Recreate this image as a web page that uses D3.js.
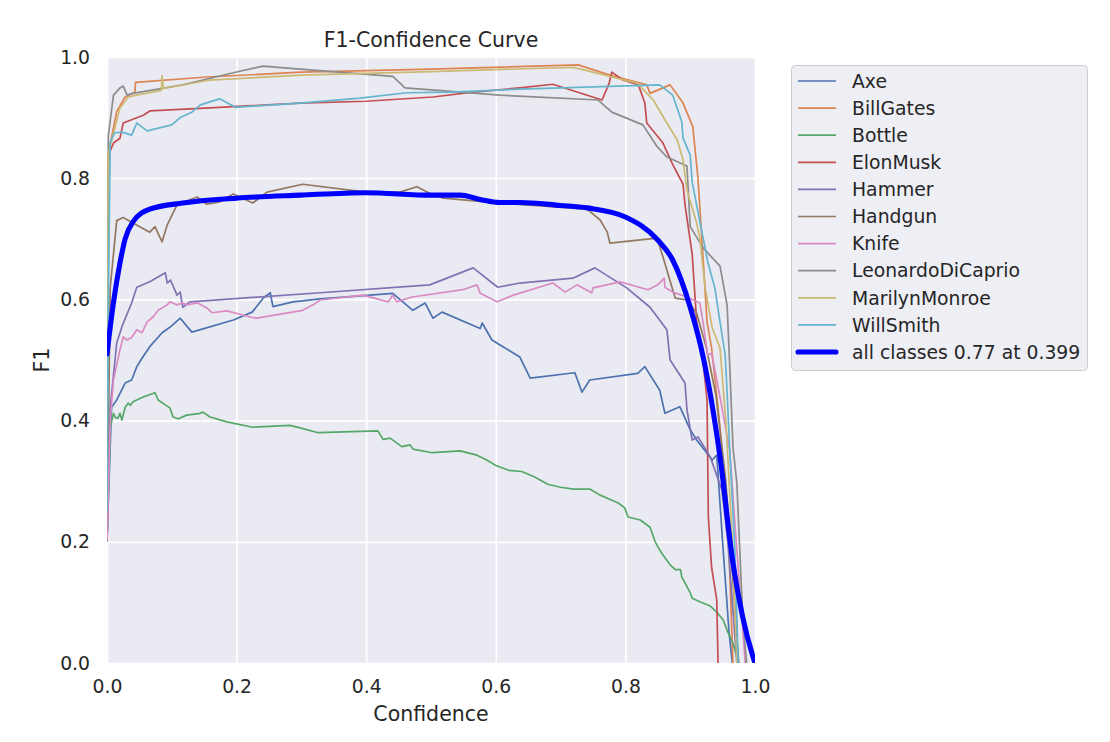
<!DOCTYPE html>
<html lang="en">
<head>
<meta charset="UTF-8">
<title>F1-Confidence Curve</title>
<script src="https://cdn.jsdelivr.net/npm/d3@7"></script>
<style>
    *{
        padding: 0;
        margin: 0;
    }
    body{
        background: #fff;
    }
    svg{
        display: block;
        font-family: "DejaVu Sans", sans-serif;
    }
</style>
</head>
<body>
<script>
    // per-class F1 vs confidence as [confidence, f1]
    let axe = [[0,0.2],[0.007,0.422],[0.015,0.434],[0.028,0.462],[0.038,0.467],[0.046,0.489],[0.054,0.503],[0.066,0.522],[0.085,0.545],[0.097,0.554],[0.113,0.569],[0.131,0.546],[0.195,0.566],[0.224,0.579],[0.241,0.602],[0.252,0.611],[0.256,0.588],[0.287,0.596],[0.329,0.601],[0.441,0.61],[0.472,0.582],[0.491,0.594],[0.503,0.569],[0.517,0.579],[0.576,0.552],[0.579,0.561],[0.594,0.533],[0.637,0.505],[0.653,0.47],[0.722,0.479],[0.733,0.447],[0.745,0.467],[0.819,0.478],[0.83,0.489],[0.853,0.45],[0.861,0.412],[0.884,0.423],[0.9,0.385],[0.91,0.368],[0.934,0.335],[0.941,0.343],[0.95,0.2],[0.96,0.05],[0.965,0.0]];
    let billGates = [[0,0.3],[0.002,0.84],[0.015,0.91],[0.028,0.934],[0.043,0.942],[0.044,0.958],[0.154,0.967],[0.3,0.975],[0.5,0.98],[0.727,0.987],[0.776,0.97],[0.833,0.954],[0.838,0.94],[0.869,0.954],[0.889,0.924],[0.904,0.885],[0.912,0.8],[0.918,0.7],[0.926,0.563],[0.933,0.52],[0.945,0.4],[0.958,0.24],[0.966,0.0]];
    let bottle = [[0,0.2],[0.005,0.389],[0.01,0.412],[0.013,0.405],[0.017,0.404],[0.02,0.412],[0.023,0.401],[0.028,0.422],[0.033,0.429],[0.036,0.425],[0.04,0.431],[0.056,0.439],[0.074,0.446],[0.079,0.434],[0.09,0.426],[0.097,0.421],[0.102,0.406],[0.11,0.403],[0.123,0.409],[0.144,0.412],[0.148,0.414],[0.159,0.406],[0.185,0.398],[0.225,0.389],[0.282,0.392],[0.298,0.388],[0.326,0.38],[0.418,0.383],[0.426,0.369],[0.437,0.371],[0.455,0.357],[0.468,0.36],[0.472,0.353],[0.502,0.347],[0.545,0.35],[0.571,0.343],[0.586,0.335],[0.6,0.326],[0.62,0.318],[0.64,0.316],[0.66,0.307],[0.68,0.295],[0.7,0.29],[0.72,0.287],[0.745,0.287],[0.761,0.277],[0.772,0.272],[0.789,0.264],[0.799,0.256],[0.804,0.241],[0.823,0.236],[0.838,0.224],[0.846,0.2],[0.85,0.192],[0.856,0.181],[0.869,0.162],[0.877,0.154],[0.885,0.154],[0.887,0.142],[0.895,0.126],[0.9,0.116],[0.903,0.107],[0.915,0.101],[0.931,0.094],[0.941,0.084],[0.951,0.071],[0.958,0.051],[0.966,0.033],[0.972,0.01],[0.975,0.0]];
    let elonMusk = [[0,0.3],[0.003,0.84],[0.01,0.858],[0.02,0.866],[0.025,0.891],[0.056,0.904],[0.066,0.911],[0.159,0.916],[0.298,0.924],[0.4,0.927],[0.503,0.934],[0.565,0.942],[0.637,0.949],[0.688,0.955],[0.764,0.929],[0.775,0.957],[0.779,0.975],[0.796,0.962],[0.82,0.954],[0.83,0.924],[0.833,0.891],[0.858,0.858],[0.872,0.825],[0.889,0.79],[0.892,0.756],[0.903,0.675],[0.91,0.563],[0.918,0.517],[0.926,0.434],[0.928,0.241],[0.933,0.158],[0.941,0.104],[0.943,0.0]];
    let hammer = [[0,0.2],[0.005,0.422],[0.015,0.528],[0.023,0.555],[0.038,0.594],[0.046,0.62],[0.066,0.629],[0.09,0.644],[0.093,0.627],[0.098,0.632],[0.108,0.607],[0.113,0.612],[0.117,0.587],[0.128,0.596],[0.329,0.611],[0.498,0.624],[0.565,0.652],[0.603,0.62],[0.637,0.627],[0.719,0.635],[0.753,0.652],[0.802,0.619],[0.838,0.587],[0.864,0.55],[0.869,0.5],[0.892,0.462],[0.895,0.418],[0.903,0.368],[0.912,0.373],[0.931,0.34],[0.949,0.285],[0.958,0.2],[0.965,0.1],[0.972,0.0]];
    let handgun = [[0,0.2],[0.005,0.62],[0.015,0.73],[0.025,0.735],[0.04,0.726],[0.066,0.711],[0.074,0.72],[0.085,0.695],[0.093,0.723],[0.108,0.756],[0.139,0.769],[0.154,0.757],[0.174,0.761],[0.195,0.774],[0.225,0.759],[0.247,0.777],[0.302,0.79],[0.4,0.777],[0.452,0.777],[0.478,0.786],[0.498,0.775],[0.519,0.767],[0.606,0.759],[0.741,0.749],[0.761,0.731],[0.772,0.711],[0.776,0.693],[0.849,0.701],[0.858,0.67],[0.873,0.616],[0.877,0.602],[0.895,0.599],[0.91,0.577],[0.925,0.52],[0.94,0.44],[0.955,0.3],[0.965,0.15],[0.975,0.0]];
    let knife = [[0,0.2],[0.005,0.4],[0.01,0.467],[0.02,0.517],[0.025,0.538],[0.031,0.533],[0.038,0.537],[0.046,0.55],[0.054,0.545],[0.062,0.563],[0.071,0.571],[0.079,0.582],[0.093,0.591],[0.097,0.596],[0.108,0.591],[0.116,0.594],[0.123,0.591],[0.14,0.594],[0.154,0.586],[0.162,0.578],[0.185,0.581],[0.221,0.571],[0.231,0.569],[0.302,0.582],[0.318,0.591],[0.329,0.599],[0.395,0.607],[0.434,0.596],[0.441,0.607],[0.447,0.596],[0.471,0.604],[0.549,0.616],[0.571,0.624],[0.576,0.61],[0.602,0.596],[0.627,0.607],[0.688,0.627],[0.707,0.612],[0.725,0.624],[0.748,0.611],[0.75,0.619],[0.792,0.629],[0.835,0.616],[0.85,0.624],[0.86,0.635],[0.861,0.62],[0.873,0.612],[0.895,0.604],[0.915,0.594],[0.92,0.561],[0.927,0.508],[0.933,0.511],[0.941,0.467],[0.946,0.439],[0.961,0.351],[0.972,0.186],[0.985,0.0]];
    let leonardo = [[0,0.3],[0.002,0.87],[0.01,0.937],[0.02,0.949],[0.025,0.952],[0.031,0.937],[0.04,0.94],[0.117,0.954],[0.195,0.974],[0.241,0.985],[0.298,0.98],[0.441,0.968],[0.46,0.949],[0.606,0.937],[0.758,0.929],[0.779,0.909],[0.827,0.888],[0.849,0.852],[0.864,0.835],[0.895,0.82],[0.9,0.72],[0.92,0.685],[0.946,0.655],[0.957,0.59],[0.961,0.49],[0.966,0.356],[0.972,0.297],[0.981,0.076],[0.987,0.0]];
    let marilyn = [[0,0.3],[0.002,0.84],[0.02,0.916],[0.033,0.934],[0.045,0.937],[0.084,0.945],[0.085,0.969],[0.087,0.948],[0.159,0.962],[0.3,0.97],[0.5,0.976],[0.72,0.983],[0.776,0.968],[0.818,0.957],[0.843,0.929],[0.864,0.891],[0.88,0.863],[0.889,0.83],[0.895,0.78],[0.91,0.726],[0.915,0.70],[0.923,0.62],[0.934,0.553],[0.946,0.52],[0.955,0.4],[0.965,0.2],[0.972,0.0]];
    let willSmith = [[0,0.25],[0.002,0.6],[0.005,0.86],[0.012,0.875],[0.023,0.876],[0.038,0.871],[0.046,0.891],[0.062,0.878],[0.1,0.888],[0.113,0.9],[0.131,0.909],[0.144,0.921],[0.174,0.931],[0.198,0.917],[0.298,0.924],[0.39,0.932],[0.463,0.941],[0.529,0.942],[0.637,0.947],[0.853,0.954],[0.873,0.937],[0.887,0.893],[0.889,0.866],[0.9,0.838],[0.903,0.794],[0.915,0.728],[0.923,0.685],[0.927,0.662],[0.938,0.619],[0.946,0.563],[0.954,0.508],[0.957,0.446],[0.961,0.351],[0.969,0.186],[0.974,0.0]];
    // mean over classes (smooth in the picture)
    let allClasses = [[0,0.51],[0.01,0.595],[0.02,0.66],[0.028,0.7],[0.04,0.728],[0.066,0.749],[0.117,0.759],[0.2,0.767],[0.298,0.772],[0.399,0.776],[0.5,0.772],[0.545,0.772],[0.576,0.765],[0.606,0.76],[0.637,0.76],[0.7,0.755],[0.741,0.751],[0.8,0.736],[0.85,0.698],[0.873,0.665],[0.9,0.587],[0.92,0.505],[0.946,0.34],[0.966,0.165],[0.981,0.076],[0.997,0.01],[1.0,0.0]];

    let classNames = ["Axe","BillGates","Bottle","ElonMusk","Hammer","Handgun","Knife","LeonardoDiCaprio","MarilynMonroe","WillSmith"];
    let classSeries = [axe,billGates,bottle,elonMusk,hammer,handgun,knife,leonardo,marilyn,willSmith];
    let classColors = ["#4C72B0","#DD8452","#55A868","#C44E52","#8172B3","#937860","#DA8BC3","#8C8C8C","#CCB974","#64B5CD"];
    let allLabel = "all classes 0.77 at 0.399";
    let xTicks = [0,0.2,0.4,0.6,0.8,1.0];
    let yTicks = [0,0.2,0.4,0.6,0.8,1.0];

    let W = 1110, H = 742;
    let plotL = 107, plotR = 755, plotT = 57, plotB = 663;
    let textColor = "#262626";

    let svg = d3.select("body").append("svg")
        .attr("width", W)
        .attr("height", H);

    let x = d3.scaleLinear().domain([0,1]).range([plotL,plotR]);
    let y = d3.scaleLinear().domain([0,1]).range([plotB,plotT]);

    svg.append("rect")
        .attr("x",plotL).attr("y",plotT)
        .attr("width",plotR-plotL).attr("height",plotB-plotT)
        .attr("fill","#EAEAF2");

    svg.append("defs").append("clipPath").attr("id","plotclip")
        .append("rect")
        .attr("x",plotL).attr("y",plotT)
        .attr("width",plotR-plotL).attr("height",plotB-plotT);

    // axes + grid (grid = inner ticks stretched across the plot)
    let xAxis = svg.append("g")
        .attr("transform","translate(0,"+plotB+")")
        .call(d3.axisBottom(x).tickValues(xTicks).tickFormat(d3.format(".1f"))
            .tickSizeInner(-(plotB-plotT)).tickSizeOuter(0).tickPadding(17));
    let yAxis = svg.append("g")
        .attr("transform","translate("+plotL+",0)")
        .call(d3.axisLeft(y).tickValues(yTicks).tickFormat(d3.format(".1f"))
            .tickSizeInner(-(plotR-plotL)).tickSizeOuter(0).tickPadding(17));
    [xAxis,yAxis].forEach(function(g){
        g.select(".domain").remove();
        g.selectAll("line").attr("stroke","#fff").attr("stroke-width",1.7);
        g.selectAll("text")
            .attr("fill",textColor)
            .style("font-size","18.8px")
            .style("font-family","'DejaVu Sans', sans-serif");
    });

    let line = d3.line()
        .x(function(d){ return x(d[0]); })
        .y(function(d){ return y(d[1]); });
    let smoothLine = d3.line()
        .curve(d3.curveMonotoneX)
        .x(function(d){ return x(d[0]); })
        .y(function(d){ return y(d[1]); });

    let plot = svg.append("g").attr("clip-path","url(#plotclip)");
    plot.selectAll("path.cls").data(classSeries).enter().append("path")
        .attr("class","cls")
        .attr("d",line)
        .attr("fill","none")
        .attr("stroke",function(d,i){ return classColors[i]; })
        .attr("stroke-width",1.7)
        .attr("stroke-linejoin","round");
    plot.append("path")
        .datum(allClasses)
        .attr("d",smoothLine)
        .attr("fill","none")
        .attr("stroke","#0000FF")
        .attr("stroke-width",5.1)
        .attr("stroke-linejoin","round")
        .attr("stroke-linecap","round");

    // title and labels
    svg.append("text")
        .attr("x",(plotL+plotR)/2).attr("y",47)
        .attr("text-anchor","middle")
        .attr("fill",textColor)
        .style("font-size","20.5px")
        .text("F1-Confidence Curve");
    svg.append("text")
        .attr("x",(plotL+plotR)/2).attr("y",721)
        .attr("text-anchor","middle")
        .attr("fill",textColor)
        .style("font-size","20.5px")
        .text("Confidence");
    svg.append("text")
        .attr("transform","translate(49,"+((plotT+plotB)/2)+") rotate(-90)")
        .attr("text-anchor","middle")
        .attr("fill",textColor)
        .style("font-size","20.5px")
        .text("F1");

    // legend
    let legX = 791, legY = 65, rowH = 27.1;
    let legend = svg.append("g");
    legend.append("rect")
        .attr("x",legX+0.5).attr("y",legY+0.5)
        .attr("width",296).attr("height",305)
        .attr("rx",4)
        .attr("fill","#EAEAF2").attr("fill-opacity",0.8)
        .attr("stroke","#CCCCCC");
    let legItems = classNames.map(function(n,i){ return {name:n,color:classColors[i],w:1.7}; });
    legItems.push({name:allLabel,color:"#0000FF",w:5.1});
    let rows = legend.selectAll("g.row").data(legItems).enter().append("g")
        .attr("class","row")
        .attr("transform",function(d,i){ return "translate(0,"+(legY+16+i*rowH)+")"; });
    rows.append("line")
        .attr("x1",798).attr("x2",836)
        .attr("stroke",function(d){ return d.color; })
        .attr("stroke-width",function(d){ return d.w; })
        .attr("stroke-linecap",function(d){ return d.w>2 ? "round" : "butt"; });
    rows.append("text")
        .attr("x",852).attr("dy","0.36em")
        .attr("fill",textColor)
        .style("font-size","18.8px")
        .text(function(d){ return d.name; });
</script>
</body>
</html>
